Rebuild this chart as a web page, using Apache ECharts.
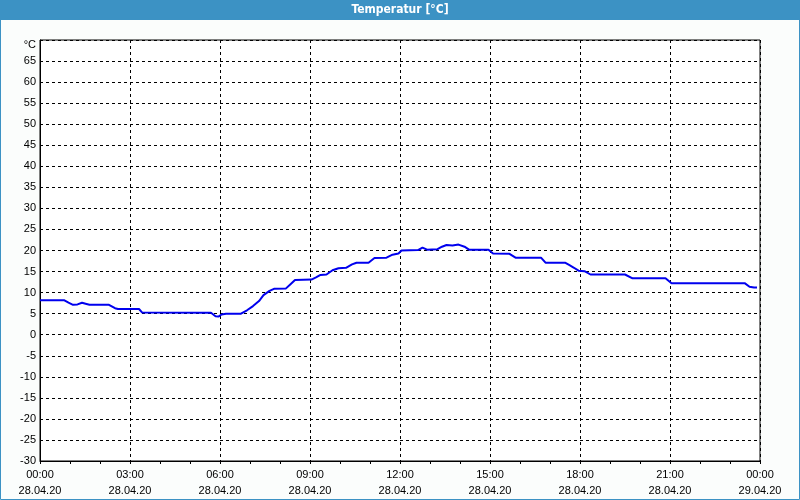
<!DOCTYPE html>
<html><head><meta charset="utf-8">
<script src="https://cdn.jsdelivr.net/npm/echarts@6/dist/echarts.min.js"></script>
<style>html,body{margin:0;padding:0;background:#fbfdfc}#c{width:800px;height:500px}</style>
</head><body><div id="c"></div>
<script>
var titleText = 'Temperatur [°C]';
var dateStart = '28.04.20';
var dateEnd = '29.04.20';
var unitLabel = '°C';
// hours since 00:00 28.04.20
var hours = [0.00,0.80,0.95,1.10,1.25,1.40,1.55,1.65,2.30,2.50,2.60,3.30,3.40,5.70,5.85,5.95,6.05,6.20,6.70,6.90,7.10,7.30,7.45,7.65,7.80,8.20,8.35,8.50,9.05,9.20,9.35,9.55,9.75,9.95,10.20,10.40,10.55,10.95,11.15,11.55,11.75,11.95,12.05,12.60,12.75,12.90,13.25,13.40,13.55,13.75,13.95,14.15,14.30,14.95,15.10,15.65,15.85,16.70,16.85,17.50,17.65,17.80,17.95,18.15,18.35,19.50,19.75,20.85,21.05,23.50,23.65,23.80,23.90];
var temps = [8.2,8.2,7.6,7.1,7.2,7.6,7.3,7.1,7.1,6.3,6.1,6.1,5.3,5.2,4.4,4.3,4.8,5.0,5.0,5.8,6.8,8.0,9.4,10.4,10.9,11.0,12.0,13.0,13.1,13.6,14.2,14.3,15.3,15.8,15.9,16.7,17.1,17.1,18.2,18.3,19.0,19.3,20.0,20.1,20.7,20.2,20.3,20.9,21.3,21.2,21.4,20.9,20.2,20.2,19.3,19.2,18.3,18.3,17.1,17.1,16.5,15.9,15.2,15.1,14.3,14.3,13.4,13.4,12.2,12.2,11.4,11.2,11.2];

var data = hours.map(function(h,i){return [h,temps[i]];});
var font = 'Liberation Sans';
var chart = echarts.init(document.getElementById('c'));
function pad(n){return (n<10?'0':'')+n;}
chart.setOption({
  animation:false,
  backgroundColor:'#fbfdfc',
  graphic:[
    {type:'rect',shape:{x:0,y:0,width:800,height:20},style:{fill:'#3c92c4'},z:-1},
    {type:'rect',shape:{x:0.5,y:0.5,width:799,height:499},style:{fill:null,stroke:'#3c92c4',lineWidth:1},z:-1},
    {type:'text',left:'center',top:4,style:{text:titleText,fill:'#ffffff',font:'bold 12px "Liberation Sans Narrow", "DejaVu Sans Condensed", "Liberation Sans"'}}
  ],
  grid:{left:40,right:40,top:40,bottom:39,show:true,backgroundColor:'#ffffff',borderColor:'#000',borderWidth:1},
  xAxis:{type:'value',min:0,max:24,interval:3,
    axisLine:{onZero:false,lineStyle:{color:'#000',width:1}},
    axisTick:{show:true,length:3,inside:false,lineStyle:{color:'#000'}},
    minorTick:{show:true,splitNumber:3,length:3,lineStyle:{color:'#000'}},
    splitLine:{show:true,lineStyle:{color:'#000',type:[3,3],width:1}},
    axisLabel:{color:'#000',fontFamily:font,fontSize:11,lineHeight:16,margin:6,
      formatter:function(v){var h=v%24;return pad(h)+':00\n'+(v>=24?dateEnd:dateStart);}}
  },
  yAxis:{type:'value',min:-30,max:70,interval:5,
    axisLine:{show:true,onZero:false,lineStyle:{color:'#000'}},
    axisTick:{show:false},
    splitLine:{show:true,lineStyle:{color:'#000',type:[3,3],width:1}},
    axisLabel:{color:'#000',fontFamily:font,fontSize:11,margin:4,
      rich:{u:{fontFamily:font,fontSize:11,color:'#000',padding:[9,0,0,0]}},
      formatter:function(v){return v===70?'{u|'+unitLabel+'}':String(v);}}
  },
  series:[{type:'line',data:data,showSymbol:false,symbol:'none',
    lineStyle:{color:'#0000ee',width:2},z:5}]
});
</script></body></html>
